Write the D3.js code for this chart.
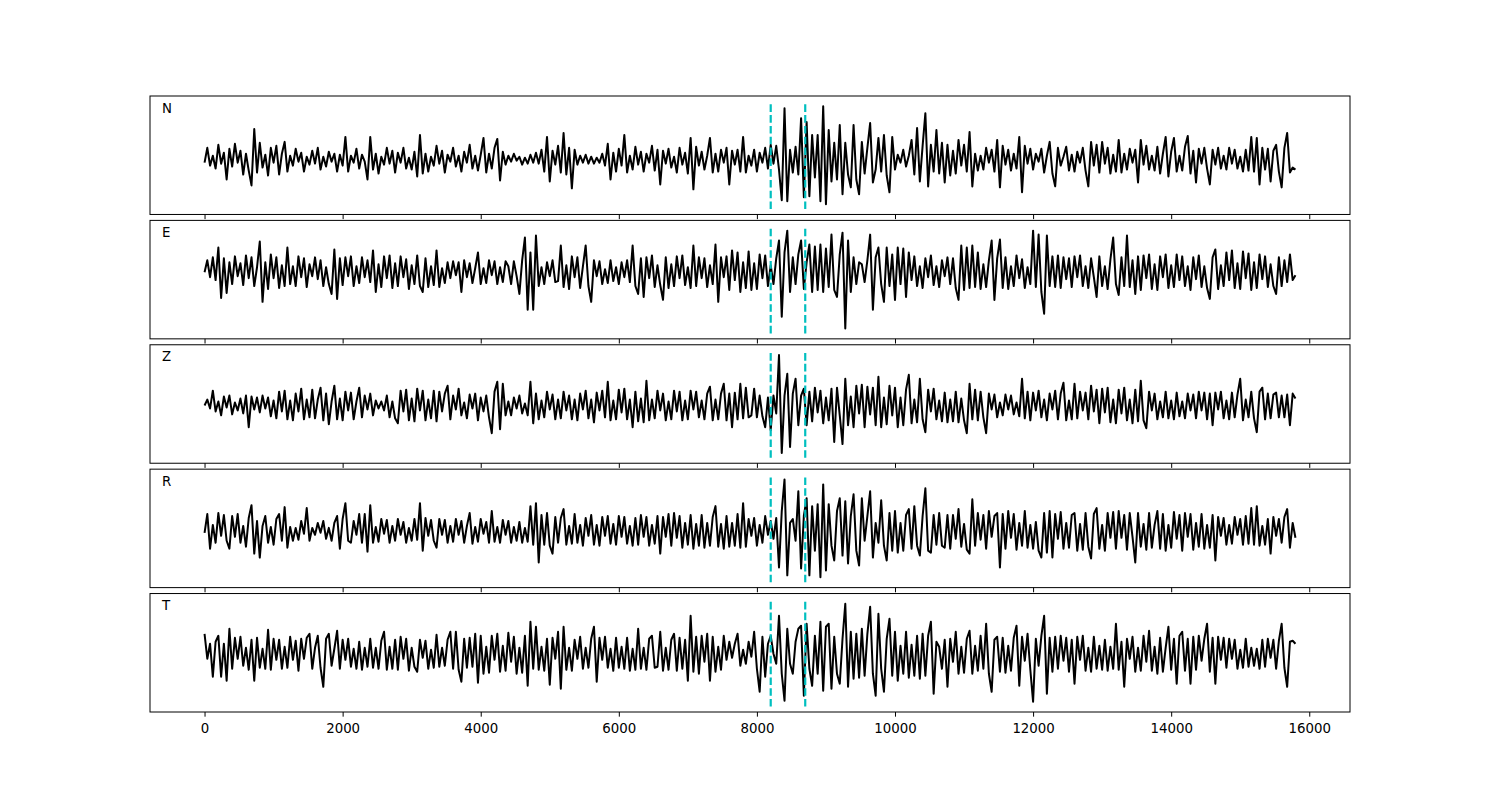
<!DOCTYPE html>
<html><head><meta charset="utf-8">
<script src="https://cdn.jsdelivr.net/npm/d3@7"></script>
<style>body{margin:0;background:#fff}</style>
</head><body>
<svg id="chart" width="1500" height="800"></svg>
<script>
const sampleStep = 40;
const channels = ["N", "E", "Z", "R", "T"];
const nVals = [
-3, 12, -6, 4, -9, 15, -4, 7, -20, 11,
-7, 16, -3, 9, -15, 6, -11, -26, 31, -13,
17, -8, 5, -16, 12, -3, 14, -15, 6, 18,
-12, 4, -6, 11, -2, 7, -12, 3, -5, 9,
-4, 12, -10, 3, -7, 8, -2, 6, -12, 5,
-6, 23, -12, 4, -3, 11, -9, 5, -2, -20,
23, -10, 6, -14, 3, -5, 12, -4, 9, -13,
7, -3, 12, -9, 2, -10, 8, -17, 25, -14,
6, -12, 3, -6, 14, -4, 9, -13, 5, -2,
12, -7, 4, -12, 8, -3, 15, -9, 4, -11,
5, 22, -13, 6, -9, 12, 21, -21, 8, -5,
4, -2, 6, -1, 3, -5, 2, -4, 5, -3,
7, -4, 10, -12, 23, -22, 9, -5, 14, -13,
27, -15, 12, -29, 10, -5, 4, -3, 5, -4,
3, -4, 2, -3, 6, -6, 16, -20, 7, -12,
11, -6, 25, -13, 4, -10, 13, -5, 8, -12,
6, -3, 14, -11, 10, -25, 9, -4, 11, -8,
3, -13, 12, -5, 7, -14, 22, -30, 13, -6,
8, -10, 4, 22, -13, 6, -12, 10, -3, 12,
-25, 9, -5, 10, -12, 23, -13, 4, -6, 10,
-12, 7, -3, 12, -9, 15, -4, 14, -10, -41,
52, -42, 10, -13, 13, -15, 42, -38, 38, -37,
25, -18, 25, -42, 54, -45, 30, -22, 17, -20,
35, -35, 17, -15, -28, 35, -20, -35, 18, -14,
12, 37, -23, -10, 22, -12, 25, -16, -33, 23,
-10, 5, -3, 10, -7, 4, 20, -15, 32, -22,
14, 47, -27, 15, -12, 30, -14, 17, -23, 15,
-16, 9, -14, 20, -6, 15, -12, 28, -27, 6,
-11, 4, -10, 12, -3, 10, -12, 20, -28, 14,
-5, 10, -11, 6, -9, 23, -33, 14, -4, 11,
-10, 6, -2, 11, -13, 4, 18, -14, -27, 12,
-6, 3, 13, -11, 5, -12, 8, -3, 12, -11,
-27, 18, -6, 15, -13, 18, -4, 12, -14, 5,
-12, 20, -13, 6, -10, 11, -3, 10, -23, 20,
-5, 14, -10, 4, -11, 13, -14, 6, 23, -17,
8, 22, -12, 4, -11, 13, 24, -14, 9, -23,
11, -4, 12, -9, -25, 10, -5, 12, -9, 4,
-10, 12, -4, 10, -9, 3, -12, 10, -11, 23,
-12, 22, -25, 12, -10, 11, -22, 9, 15, -12,
-28, 12, 27, -13, -8, -10
];
const eVals = [
0, 12, -5, 15, -8, 25, -26, 14, -21, 10,
-12, 16, -4, 9, -13, 17, -6, 15, -14, 5,
31, -30, 10, -17, 18, -6, 15, -16, 7, -14,
25, -12, 6, -14, 16, -5, 14, -15, 8, -4,
15, -7, 12, -14, 5, -12, -22, 23, -27, 14,
-13, 15, -4, 16, -14, 6, -11, 15, -5, 12,
-10, 22, -20, 8, -15, 16, -6, 17, -16, 9,
-14, 16, -5, 13, -17, 7, -12, 17, -14, -20,
14, -15, 6, -13, 22, -15, 4, -11, 10, -6,
11, -3, 10, -20, 12, -5, 9, -11, 4, 20,
-12, 4, -11, 12, -3, 11, -12, 5, -10, 11,
6, -12, 11, -4, -22, 12, 35, -38, 20, -38,
37, -14, 5, -12, 10, -4, 12, -10, -9, 27,
-15, 7, -17, 16, -5, 15, -16, 6, 27, -14,
-30, 12, -4, 11, -12, 3, -11, 12, -9, 5,
-12, 10, -5, 12, -10, 27, -14, -22, 14, -25,
15, -6, 17, -15, 7, -13, -28, 15, -16, 8,
-14, 16, -6, 17, -13, 5, -16, 27, -14, 15,
-6, 14, -15, 7, -12, 28, -30, 15, -5, 16,
-18, 22, -8, 20, -20, 10, -16, 21, -18, 9,
-17, 18, -6, 17, -14, 7, -12, 14, 32, -45,
20, 42, -20, 15, -12, 18, 32, -17, 10, 28,
-20, 26, -18, 28, -20, 24, -15, 38, -18, -25,
18, 40, -57, 32, -20, 15, -12, 10, 8, -10,
12, 38, -38, 15, 25, -12, -30, 25, -14, 18,
-28, 25, -12, 24, -25, 20, -8, 16, -14, 6,
-16, 14, -5, 17, -13, 6, -15, 12, -4, 15,
-12, 14, -16, -28, 27, -18, 25, -16, 27, -15,
20, -17, 8, -15, 12, 32, -28, 14, 33, -16,
15, -17, 6, -14, 17, -6, 13, -16, 5, -12,
42, -15, 38, -20, -42, 37, -14, 16, -15, 17,
-16, 15, -7, 14, -15, 16, -5, 17, -14, 6,
-16, 14, -5, -25, 16, -14, 6, -17, 13, 35,
-12, -23, 15, -14, 37, -15, 12, -22, 16, -18,
17, -6, 18, -17, 8, -18, 16, -5, 18, -16,
7, -15, 18, -8, 16, -14, 6, -18, 15, -7,
17, -15, 6, -16, -27, 15, 23, -17, 7, -14,
20, -8, 22, -16, 9, -17, 21, -6, 19, -18,
10, -16, 18, -7, 16, -15, 8, -14, -22, 15,
-14, 12, -10, 18, -8, -3
];
const zVals = [
0, 6, -3, 15, -6, 4, -10, 9, -2, 10,
-9, 3, -5, 7, -8, 10, -22, 9, -4, 8,
-7, 10, -3, 8, -11, 5, -13, 14, -6, 15,
-14, 5, -15, 12, -6, 17, -14, 6, -12, 16,
-13, 6, 18, -15, 12, -19, 4, 20, -14, 7,
-15, 14, -5, 13, -14, 4, 18, -12, 10, -4,
12, -10, 5, -3, 4, -5, 10, -12, 4, -13,
-18, 15, -6, 16, -15, 7, -16, 17, -5, 15,
-15, 6, -13, 15, -16, 14, -6, 12, 20, -14,
10, -4, 17, -10, 3, -13, 11, -3, 12, -15,
8, -6, 10, -12, -28, 14, 24, -24, 22, -10,
4, -10, 8, -3, 10, -8, 2, -10, 24, -18,
12, -14, 5, -12, 14, -4, 11, -14, 6, -13,
14, -5, 10, -14, 6, -15, 12, -4, 15, -13,
6, -17, 13, -5, 15, -12, 24, -15, 5, -14,
16, -7, 17, -14, 6, -22, 14, -16, 7, -17,
25, -15, 6, -13, 15, -5, 12, -15, 4, -14,
15, -6, 14, -15, 5, -14, 15, -4, 14, -12,
5, -14, 12, 19, -15, 6, -14, 12, 22, -15,
12, -22, 13, -14, 22, -13, 18, -12, -10, 17,
-12, 10, -11, -22, 8, -25, 10, -8, 51, -48,
10, 32, -42, 12, 27, -20, 10, 17, -20, 14,
-16, 18, -7, 15, -18, 8, -15, 17, -37, 18,
-10, -39, 27, -20, 9, -22, 20, -8, 21, -22,
19, -9, 18, -20, 29, -22, 8, -19, 20, -10,
18, -22, 8, -20, 16, 31, -18, 6, -17, 27,
-14, -27, 16, -6, 17, -14, 5, -16, 13, -17,
6, -16, 14, -17, 7, -15, -28, 22, -14, 16,
-15, 14, -12, -28, 12, -4, 11, -12, 3, -10,
11, -4, 10, -9, 3, -11, 27, -13, 14, -15,
13, -5, 15, -12, 6, -15, 12, -4, 15, -14,
12, 23, -15, 5, -14, 22, -13, 14, -5, 13,
-14, 20, -6, 16, -18, 17, -7, 18, -17, 6,
-18, 16, -8, 18, -15, 6, -18, 16, -16, 25,
-15, -23, 14, -5, 12, -14, 4, -12, 14, -13,
5, -14, 13, -11, 4, -13, 12, -5, 11, -13,
14, -5, 13, -14, 12, -20, 13, -4, 14, -13,
5, -14, 13, -12, 11, 27, -15, 6, -12, 14,
-13, -27, 14, 18, -14, 12, -13, 11, 13, -12,
10, -12, 11, -20, 12, 7
];
const rVals = [
-2, 17, -18, 6, -12, 18, -5, 16, -10, -18,
15, -6, 17, -12, 5, -16, 13, 26, -23, 10,
-27, 5, 15, -12, 4, -14, 12, 17, -10, 24,
-17, 4, -10, 3, -9, 10, -3, 23, -10, 3,
-4, 8, -2, 10, -8, 3, -10, 8, 15, -18,
12, 28, -10, -12, 10, -4, 17, -12, 17, -21,
26, -12, 4, -11, 12, -3, 11, -12, 5, -10,
12, -4, 9, -12, 3, -10, 12, -9, 28, -20,
13, -5, 11, -10, -17, 12, -4, 11, -12, 5,
-11, 12, -4, 10, -12, 5, 18, -13, 4, -11,
12, -3, 9, -12, 20, -11, 4, -12, 11, -4,
10, -12, 4, -10, 9, -12, 3, -11, 25, -14,
28, -32, 16, -14, 18, -15, -23, 14, -12, 13,
22, -14, 5, -13, 17, -12, 6, -15, 13, -5,
16, -14, 6, -15, 14, -5, 15, -13, 7, -14,
15, -6, 14, -13, 5, -15, 13, -14, 16, -6,
14, -15, 6, -13, 15, -23, 14, -6, 17, -15,
18, -7, 15, -17, 8, -14, 16, -18, 7, -15,
16, -17, 8, -15, 14, 25, -16, 7, -18, 15,
-16, 8, -15, 17, -17, 28, -16, 12, -5, 13,
-15, 6, -12, 15, -4, 10, -8, 13, -37, 20,
52, -45, 8, 12, -10, 40, -38, 15, 33, -45,
25, -20, 27, -47, 47, -40, 27, -15, -30, 20,
33, -25, 30, -33, 15, 37, -20, -35, 33, -10,
15, 40, -27, 8, -12, 31, -15, -30, 18, -20,
20, -22, 8, -20, 16, 22, -18, 25, -15, -25,
15, 43, -20, -22, 16, -14, 18, -15, -17, 16,
-18, 16, -8, 22, -16, 7, -19, -23, 32, -15,
18, -9, 16, -18, 20, -6, 15, 18, -37, 17,
-18, 20, -7, 17, -19, 8, -15, 20, -17, 6,
-18, 9, -20, -27, 18, -22, 20, -27, 17, -8,
19, -18, 8, -17, 16, 18, -20, 7, -19, 18,
-16, -28, 17, 23, -18, 6, -20, 18, -7, 19,
-18, 20, -7, 16, -19, 18, -6, -32, 18, -16,
7, -19, 18, -17, 6, 20, -18, 17, -20, 6,
-17, 19, -8, 16, -20, 18, -6, 17, -19, 8,
-16, 17, -18, 6, -17, 16, -30, 14, -5, 13,
-14, 6, -13, 14, -4, 12, -14, 15, -13, 23,
-14, 25, -15, 5, -14, 12, -23, 14, -5, 12,
-12, 14, 22, -17, 8, -7
];
const tVals = [
20, -5, 10, -23, 12, 18, -23, 10, -27, 25,
-15, 16, -5, 17, -12, 6, -16, 14, -27, 16,
-14, 5, -15, 24, -16, 15, -6, 14, -15, 7,
-14, 17, -6, 13, -17, 15, -5, 16, 20, -15,
6, 18, -14, -33, 15, 20, -12, 5, 23, -15,
14, -6, 15, -13, 5, -15, 12, -16, 6, -13,
15, -14, 6, -15, 13, 22, -16, 7, -15, 14,
-16, 17, -5, 15, -17, 6, -13, -18, 14, -4,
13, -15, 4, -14, 19, -13, 6, -12, 14, 22,
-15, 22, -16, -28, 15, -14, 16, -13, 20, -29,
18, -20, 7, -19, 18, -6, 20, -18, 8, -17,
21, -8, 17, -20, 6, -19, 18, -32, 32, -15,
27, -16, 7, -17, 15, -31, 16, -5, 22, -35,
27, -16, 6, -17, 14, -5, 17, -15, 6, -14,
15, 27, -28, 16, -6, 17, -14, 5, -17, 16,
-14, 7, -15, 16, -17, 5, -16, 25, -15, 6,
-16, 15, 18, -14, -13, 22, -17, 6, -16, 14,
20, -17, 16, -15, 14, -27, 38, -18, 17, -20,
18, -8, 20, -27, 17, -18, 7, -16, 18, -6,
12, -4, 10, 20, -12, 4, -10, 12, -3, 22,
-15, -38, 17, -23, 10, 18, 0, -10, 38, -20,
-47, 25, -10, -20, 12, 25, 28, -42, 30, -15,
-32, 18, -20, 32, -37, 27, 30, -35, 17, -20,
-30, 15, 50, -33, 22, -25, 20, -24, 25, -22,
20, 47, -20, -42, 40, -15, -38, 15, 35, -22,
22, -27, 8, -20, 22, -24, 9, -22, 18, -25,
20, -22, 18, 32, -40, 12, 7, -15, 14, -33,
15, -8, 22, -20, 7, -19, 15, 23, -20, 8,
-17, 18, -15, 30, -20, -38, 14, 17, -18, 16,
-19, 8, -17, 16, 28, -32, 17, -7, 20, -16,
-48, 15, -12, 18, 38, -40, 16, -18, 17, -15,
18, -7, 16, -18, 14, -30, 17, -6, 18, -17,
6, -18, 17, -15, 8, -16, 14, -17, 7, -15,
30, -16, 12, -33, 15, -5, 17, -18, 6, -17,
18, -8, 23, -17, 7, -20, 16, -18, 6, 27,
-16, 15, -30, 18, 22, -17, 15, -30, 17, -16,
18, -7, 15, 30, -18, 16, -30, 17, -6, 16,
-14, 15, -5, 14, -15, 4, -14, 15, -13, 6,
-12, 5, -15, 14, -13, 15, -4, 14, -15, 13,
30, -14, -33, 12, 13, 10
];
const xTicks = [0, 2000, 4000, 6000, 8000, 10000, 12000, 14000, 16000];
const picks = [8200, 8700];
const xDomain = [-790, 16590];

const series = [nVals, eVals, zVals, rVals, tVals];
const figW = 1500, figH = 800;
const axLeft = 150, axRight = 1350, axTop = 96, axBottom = 712;
const hspace = 0.05;
const panelH = (axBottom - axTop) / (series.length + (series.length - 1) * hspace);
const panelGap = panelH * hspace;
const FONT = "'DejaVu Sans', sans-serif";

const svg = d3.select("#chart");
svg.append("rect").attr("width", figW).attr("height", figH).attr("fill", "#fff");

const xScale = d3.scaleLinear().domain(xDomain).range([axLeft, axRight]);

series.forEach((vals, i) => {
  const y0 = axTop + i * (panelH + panelGap), y1 = y0 + panelH;
  const [mn, mx] = d3.extent(vals);
  const pad = 0.05 * (mx - mn);
  const vmin = mn - pad, vmax = mx + pad, vr = vmax - vmin;
  const yScale = d3.scaleLinear().domain([vmin - 0.05 * vr, vmax + 0.05 * vr]).range([y1, y0]);
  const g = svg.append("g");

  const line = d3.line().x((d, j) => xScale(j * sampleStep)).y(d => yScale(d));
  g.append("path").datum(vals)
    .attr("d", line).attr("fill", "none")
    .attr("stroke", "#000").attr("stroke-width", 2)
    .attr("stroke-linejoin", "round");

  picks.forEach(p => {
    g.append("line")
      .attr("x1", xScale(p)).attr("x2", xScale(p))
      .attr("y1", yScale(vmin)).attr("y2", yScale(vmax))
      .attr("stroke", "#00bfbf").attr("stroke-width", 2.2)
      .attr("stroke-dasharray", "7.6,3.2");
  });

  g.append("rect").attr("x", axLeft).attr("y", y0)
    .attr("width", axRight - axLeft).attr("height", panelH)
    .attr("fill", "none").attr("stroke", "#000").attr("stroke-width", 1);

  const ax = g.append("g").attr("transform", `translate(0,${y1})`)
    .call(d3.axisBottom(xScale).tickValues(xTicks).tickSize(4.67).tickPadding(4.67)
      .tickFormat(i === series.length - 1 ? d3.format("d") : () => ""));
  ax.select(".domain").remove();
  ax.selectAll("line").attr("stroke", "#000").attr("stroke-width", 1);
  ax.selectAll("text").attr("font-family", FONT).attr("font-size", "13.33px")
    .attr("fill", "#000").attr("dy", "0.88em");

  g.append("text").attr("x", axLeft + 12).attr("y", y0 + 16.7)
    .attr("font-family", FONT).attr("font-size", "13.33px").attr("fill", "#000")
    .text(channels[i]);
});
</script>
</body></html>
